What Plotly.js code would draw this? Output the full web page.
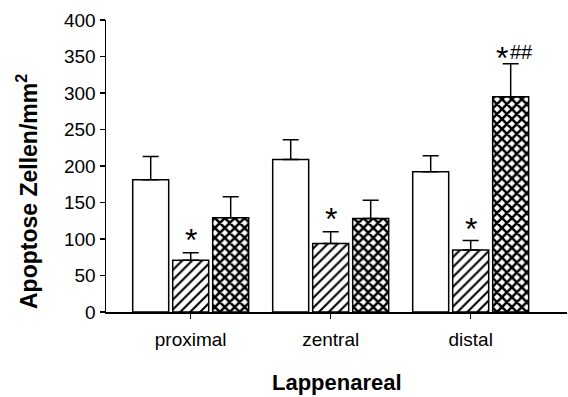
<!DOCTYPE html>
<html>
<head>
<meta charset="utf-8">
<script src="https://cdn.plot.ly/plotly-3.0.1.min.js"></script>
<style>html,body{margin:0;padding:0;background:#fff;}#chart{width:568px;height:397px;}</style>
</head>
<body>
<div id="chart"></div>
<script>
const categories = ['proximal', 'zentral', 'distal'];
const whiteVals = [181, 209, 192];
const whiteErr = [32, 27, 22];
const hatchedVals = [71, 94, 85];
const hatchedErr = [10, 16, 13];
const crossVals = [129, 128, 295];
const crossErr = [29, 25, 45];
const tickVals = [0, 50, 100, 150, 200, 250, 300, 350, 400];

// significance marks: category position, y value, text
const sigX = [0, 1, 2, 2.2857 - 0.065, 2.2857 + 0.08];
const sigY = [110, 138, 124, 359, 359];
const sigText = ['*', '*', '*', '*', '##'];

const errStyle = (arr) => ({type: 'data', array: arr, arrayminus: arr.map(() => 0), symmetric: false, color: '#000', thickness: 1.5, width: 8});
const lineStyle = {color: '#000', width: 1.5};

const traces = [
  {type: 'bar', x: categories, y: whiteVals, error_y: errStyle(whiteErr),
   marker: {color: '#fff', line: lineStyle}, showlegend: false},
  {type: 'bar', x: categories, y: hatchedVals, error_y: errStyle(hatchedErr),
   marker: {color: '#fff', line: lineStyle, pattern: {shape: '/', fgcolor: '#000', bgcolor: '#fff', size: 7, solidity: 0.3}}, showlegend: false},
  {type: 'bar', x: categories, y: crossVals, error_y: errStyle(crossErr),
   marker: {color: '#fff', line: lineStyle, pattern: {shape: 'x', fgcolor: '#000', bgcolor: '#fff', size: 7, solidity: 0.6}}, showlegend: false}
];

const annotations = sigX.map((x, i) => ({
  x: x, y: sigY[i], xref: 'x', yref: 'y', text: sigText[i], showarrow: false,
  xanchor: 'center', yanchor: 'middle',
  yshift: sigText[i] === '*' ? -8 : -2,
  font: {family: 'Liberation Sans, Arial, sans-serif', size: sigText[i] === '*' ? 32 : 20, color: '#000'}
}));
annotations.push({
  xref: 'paper', yref: 'paper', x: (27 - 106) / 461, y: (312 - 192) / 292,
  text: '<b>Apoptose Zellen/mm<sup>2</sup></b>', textangle: -90, showarrow: false,
  xanchor: 'center', yanchor: 'middle',
  font: {family: 'Liberation Sans, Arial, sans-serif', size: 23, color: '#000'}
});
annotations.push({
  xref: 'paper', yref: 'paper', x: (337 - 106) / 461, y: (312 - 382) / 292,
  text: '<b>Lappenareal</b>', showarrow: false, xanchor: 'center', yanchor: 'middle',
  font: {family: 'Liberation Sans, Arial, sans-serif', size: 22, color: '#000'}
});

const layout = {
  width: 568, height: 397,
  margin: {l: 106, r: 1, t: 20, b: 85, pad: 0},
  paper_bgcolor: '#fff', plot_bgcolor: '#fff',
  barmode: 'group', bargap: 0.143, bargroupgap: 0.1,
  font: {family: 'Liberation Sans, Arial, sans-serif', color: '#000'},
  xaxis: {type: 'category', range: [-0.605, 2.688], showline: true, linecolor: '#000', linewidth: 1.5,
          ticks: 'outside', ticklen: 5, tickwidth: 1.5, tickcolor: '#000', showgrid: false, zeroline: false,
          tickfont: {size: 19}, ticklabelstandoff: 5, fixedrange: true},
  yaxis: {range: [0, 400], tickvals: tickVals, showline: true, linecolor: '#000', linewidth: 1.5,
          ticks: 'outside', ticklen: 5, tickwidth: 1.5, tickcolor: '#000', showgrid: false, zeroline: false,
          tickfont: {size: 19}, fixedrange: true},
  annotations: annotations
};

Plotly.newPlot('chart', traces, layout, {staticPlot: true, displayModeBar: false});
</script>
</body>
</html>
